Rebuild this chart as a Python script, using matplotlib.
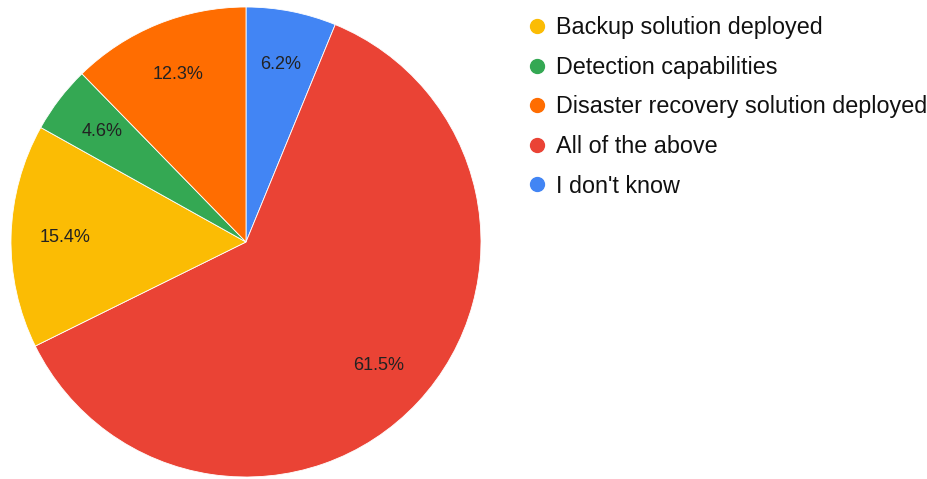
import matplotlib.pyplot as plt
from matplotlib.lines import Line2D

plt.rcParams["font.family"] = ["Liberation Sans", "DejaVu Sans"]

# slices, clockwise from 12 o'clock
labels = ["I don't know", "All of the above", "Backup solution deployed",
          "Detection capabilities", "Disaster recovery solution deployed"]
shares = [6.2, 61.5, 15.4, 4.6, 12.3]
colors = ["#4285F4", "#EA4335", "#FBBC04", "#34A853", "#FF6D01"]

# legend order
legend_order = ["Backup solution deployed", "Detection capabilities",
                "Disaster recovery solution deployed", "All of the above",
                "I don't know"]

W, H = 928, 479
fig = plt.figure(figsize=(W / 100, H / 100), dpi=100)

cx, cy, r = 246, 242, 235
ax = fig.add_axes([(cx - r) / W, (H - cy - r) / H, 2 * r / W, 2 * r / H])

wedges, texts, autotexts = ax.pie(
    shares,
    colors=colors,
    startangle=90,
    counterclock=False,
    autopct="%.1f%%",
    pctdistance=0.77,
    wedgeprops=dict(edgecolor="white", linewidth=0.6),
    textprops=dict(color="#222222", fontsize=13),
)
ax.set_xlim(-1, 1)
ax.set_ylim(-1, 1)
ax.set_aspect("equal")
ax.axis("off")

col = dict(zip(labels, colors))
handles = [
    Line2D([], [], marker="o", linestyle="", markersize=10,
           markerfacecolor=col[l], markeredgecolor=col[l])
    for l in legend_order
]
fig.legend(
    handles, legend_order,
    loc="upper left",
    bbox_to_anchor=(516 / W, 1 - 7 / H),
    frameon=False,
    fontsize=16.8,
    handletextpad=0.3,
    handlelength=1.0,
    labelspacing=0.71,
    borderaxespad=0,
    labelcolor="#111111",
)

fig.savefig("out.png", dpi=100, facecolor="white")
